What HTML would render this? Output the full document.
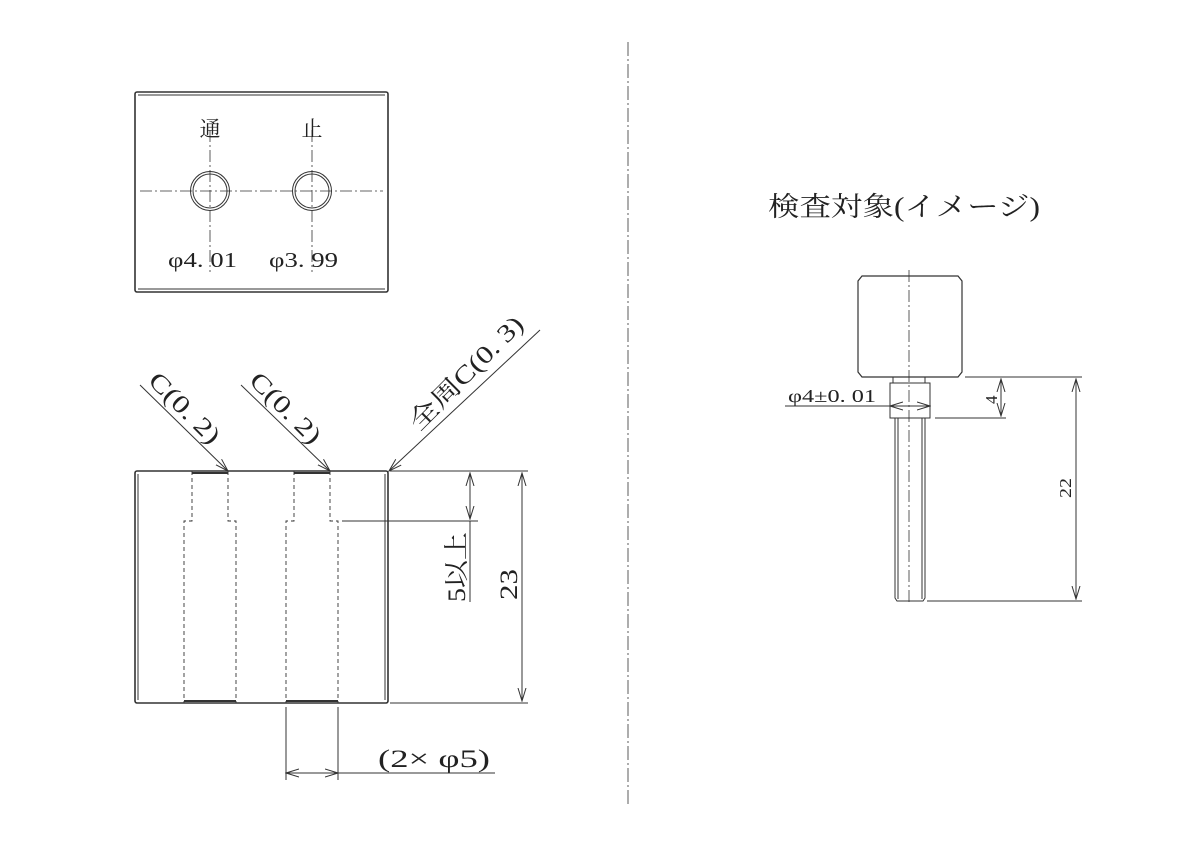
<!DOCTYPE html>
<html><head><meta charset="utf-8"><style>
html,body{margin:0;padding:0;background:#fff}
svg{display:block}
text{font-family:"Liberation Serif","Noto Serif CJK JP","Noto Sans CJK JP",serif;fill:#222}
</style></head><body>
<svg width="1200" height="848" viewBox="0 0 1200 848" xmlns="http://www.w3.org/2000/svg">
<defs>
<marker id="a" markerWidth="14" markerHeight="10" refX="13" refY="5" orient="auto-start-reverse" markerUnits="userSpaceOnUse">
<path d="M0,1 L13,5 L0,9" fill="none" stroke="#333" stroke-width="1"/></marker>
</defs>
<g stroke="#333" fill="none" stroke-width="1">
<line x1="628" y1="42" x2="628" y2="805" stroke-dasharray="14,3,2,3" stroke-width="0.8"/>
<rect x="135" y="92" width="253" height="200" rx="2" stroke-width="1.6"/>
<line x1="138" y1="95" x2="385" y2="95"/><line x1="138" y1="289" x2="385" y2="289"/>
<line x1="140" y1="191" x2="383" y2="191" stroke-dasharray="12,3,2,3" stroke-width="0.8"/>
<line x1="210" y1="130" x2="210" y2="272" stroke-dasharray="12,3,2,3" stroke-width="0.8"/>
<line x1="312" y1="130" x2="312" y2="272" stroke-dasharray="12,3,2,3" stroke-width="0.8"/>
<circle cx="210" cy="191" r="19.5"/><circle cx="210" cy="191" r="17"/>
<circle cx="312" cy="191" r="19.5"/><circle cx="312" cy="191" r="17"/>
<rect x="135" y="471" width="253" height="232" rx="2" stroke-width="1.6"/>
<line x1="138" y1="474" x2="138" y2="700"/><line x1="385" y1="474" x2="385" y2="700"/>
<g stroke-dasharray="4,3" stroke-width="0.9">
<path d="M192,471 V521 H184 V703 M228,471 V521 H236 V703"/>
<path d="M294,471 V521 H286 V703 M330,471 V521 H338 V703"/>
</g>
<line x1="192" y1="473" x2="228" y2="473" stroke-width="2"/><line x1="294" y1="473" x2="330" y2="473" stroke-width="2"/>
<line x1="184" y1="701" x2="236" y2="701" stroke-width="2"/><line x1="286" y1="701" x2="338" y2="701" stroke-width="2"/>
<line x1="140" y1="385" x2="228" y2="471" marker-end="url(#a)"/>
<line x1="241" y1="385" x2="330" y2="471" marker-end="url(#a)"/>
<line x1="540" y1="330" x2="389" y2="471" marker-end="url(#a)"/>
<line x1="390" y1="471" x2="528" y2="471"/>
<line x1="342" y1="521" x2="478" y2="521"/>
<line x1="470" y1="473" x2="470" y2="519" marker-start="url(#a)" marker-end="url(#a)"/>
<line x1="470" y1="521" x2="470" y2="602"/>
<line x1="390" y1="703" x2="528" y2="703"/>
<line x1="522" y1="473" x2="522" y2="701" marker-start="url(#a)" marker-end="url(#a)"/>
<line x1="286" y1="707" x2="286" y2="780"/><line x1="338" y1="707" x2="338" y2="780"/>
<line x1="286" y1="773" x2="338" y2="773" marker-start="url(#a)" marker-end="url(#a)"/>
<line x1="338" y1="773" x2="495" y2="773"/>
<path d="M862,276 H958 L962,281 V372 L958,377 H862 L858,372 V281 Z" stroke-width="1.2"/>
<rect x="893" y="377" width="32" height="6"/>
<rect x="890" y="383" width="40" height="35"/>
<path d="M895,418 V598 L897,601 H923 L925,598 V418"/>
<line x1="898" y1="418" x2="898" y2="599"/><line x1="922" y1="418" x2="922" y2="599"/>
<line x1="909" y1="270" x2="909" y2="605" stroke-dasharray="12,3,2,3" stroke-width="0.8"/>
<line x1="965" y1="377" x2="1082" y2="377"/>
<line x1="935" y1="418" x2="1006" y2="418"/>
<line x1="1001" y1="379" x2="1001" y2="416" marker-start="url(#a)" marker-end="url(#a)"/>
<line x1="927" y1="601" x2="1082" y2="601"/>
<line x1="1076" y1="379" x2="1076" y2="599" marker-start="url(#a)" marker-end="url(#a)"/>
<line x1="785" y1="406" x2="890" y2="406"/>
<line x1="890" y1="406" x2="930" y2="406" marker-start="url(#a)" marker-end="url(#a)"/>
</g>
<g font-size="21">
<text x="210" y="136" text-anchor="middle">通</text>
<text x="312" y="136" text-anchor="middle">止</text>
<text x="168" y="267" textLength="69" lengthAdjust="spacingAndGlyphs">φ4. 01</text>
<text x="269" y="267" textLength="69" lengthAdjust="spacingAndGlyphs">φ3. 99</text>
<text x="378" y="767" font-size="25" textLength="112" lengthAdjust="spacingAndGlyphs">(2× φ5)</text>
<text transform="translate(147,382) rotate(45)" font-size="25" textLength="90" lengthAdjust="spacingAndGlyphs">C(0. 2)</text>
<text transform="translate(248,382) rotate(45)" font-size="25" textLength="90" lengthAdjust="spacingAndGlyphs">C(0. 2)</text>
<text transform="translate(419,432) rotate(-45)" font-size="25" textLength="150" lengthAdjust="spacingAndGlyphs">全周C(0. 3)</text>
<text transform="translate(465,602) rotate(-90)" font-size="25" textLength="70" lengthAdjust="spacingAndGlyphs">5以上</text>
<text transform="translate(517,600) rotate(-90)" font-size="25" textLength="31" lengthAdjust="spacingAndGlyphs">23</text>
<text x="768" y="216" font-size="27" font-family="Liberation Sans,Noto Sans CJK JP,sans-serif" textLength="272" lengthAdjust="spacingAndGlyphs">検査対象(イメージ)</text>
<text x="788" y="402" font-size="18" textLength="88" lengthAdjust="spacingAndGlyphs">φ4±0. 01</text>
<text transform="translate(997,404) rotate(-90)" font-size="17">4</text>
<text transform="translate(1071,498) rotate(-90)" font-size="17" textLength="20" lengthAdjust="spacingAndGlyphs">22</text>
</g>
</svg>
</body></html>
